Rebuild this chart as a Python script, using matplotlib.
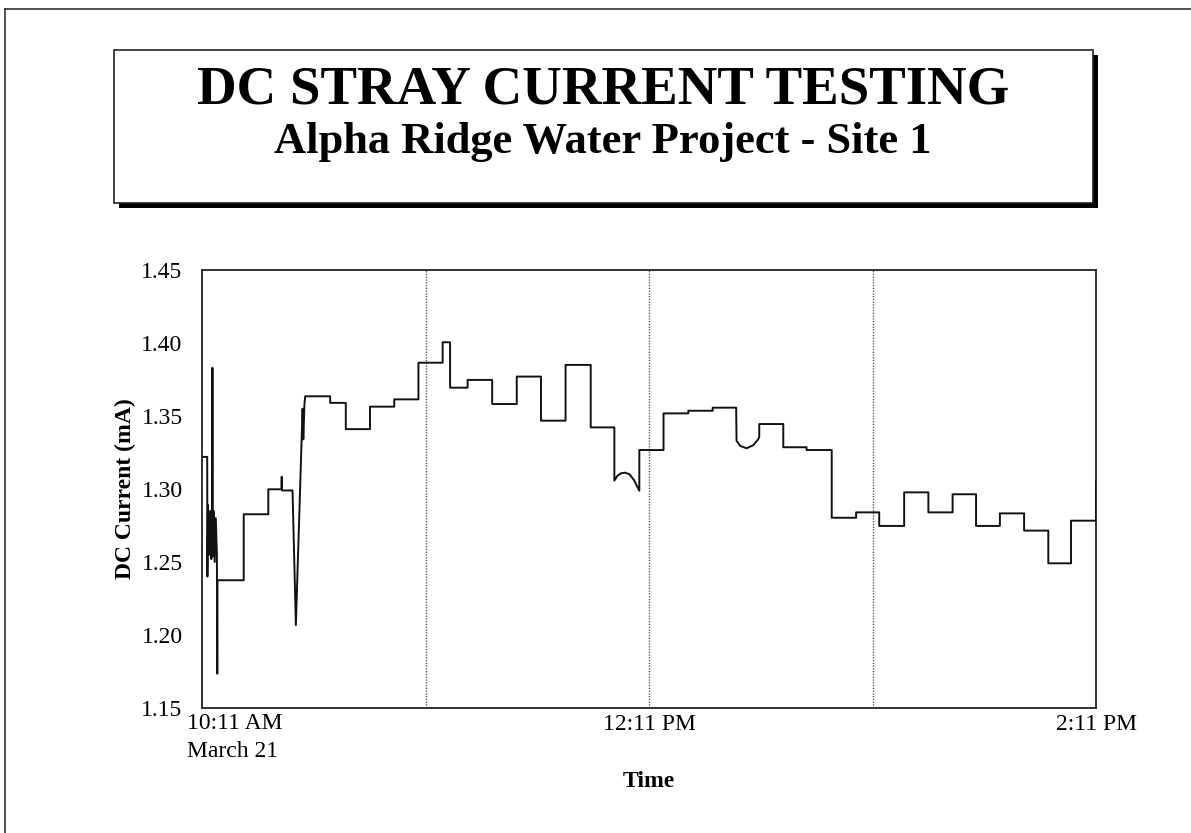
'''
DC stray current log,
Alpha Ridge Water Project, site 1
'''

# import packages needed
import matplotlib
matplotlib.use("Agg")
import matplotlib.pyplot as plt
from matplotlib.patches import Rectangle
from matplotlib.lines import Line2D

#################################

# readings: minutes after 10:11 AM and current in mA
minutes = [0, 1.4, 1.45, 1.6, 1.9, 2.2, 2.5, 2.75, 2.8, 2.85, 3.1, 3.4, 3.7, 4.0,
           4.1, 4.15, 11.2, 11.2, 17.8, 17.8, 21.3, 21.4, 21.5, 24.3, 25.2, 27.0,
           27.2, 27.5, 27.7, 34.4, 34.4, 38.6, 38.6, 45.1, 45.1, 51.6, 51.6, 58.1,
           58.1, 64.6, 64.6, 66.6, 66.6, 71.3, 71.3, 77.9, 77.9, 84.5, 84.5, 91.0,
           91.0, 97.6, 97.6, 104.35, 104.35, 110.7, 110.7, 111.5, 112.5, 113.6,
           114.8, 116.0, 117.4, 117.4, 123.9, 123.9, 130.55, 130.55, 137.1, 137.1,
           143.4, 143.5, 144.5, 146.2, 148.0, 149.3, 149.6, 149.6, 156.05, 156.05,
           162.3, 162.3, 169.05, 169.05, 175.6, 175.6, 181.8, 181.8, 188.5, 188.5,
           195.0, 195.0, 201.5, 201.5, 207.8, 207.8, 214.2, 214.2, 220.7, 220.7,
           227.2, 227.2, 233.3, 233.3, 240.0, 240.0]
current_ma = [1.322, 1.322, 1.240, 1.289, 1.255, 1.285, 1.252, 1.262, 1.383, 1.254,
              1.285, 1.250, 1.280, 1.255, 1.1735, 1.2375, 1.2375, 1.2827, 1.2827,
              1.2998, 1.2998, 1.3084, 1.2990, 1.2990, 1.2068, 1.355, 1.334, 1.358,
              1.3635, 1.3635, 1.359, 1.359, 1.341, 1.341, 1.3564, 1.3564, 1.3614,
              1.3614, 1.3865, 1.3865, 1.4005, 1.4005, 1.3694, 1.3694, 1.3747,
              1.3747, 1.3582, 1.3582, 1.377, 1.377, 1.3468, 1.3468, 1.385, 1.385,
              1.3422, 1.3422, 1.3057, 1.3090, 1.3108, 1.3112, 1.3100, 1.3060,
              1.2988, 1.3267, 1.3267, 1.3518, 1.3518, 1.3536, 1.3536, 1.3557,
              1.3557, 1.333, 1.3295, 1.3279, 1.3300, 1.3340, 1.3358, 1.3445, 1.3445,
              1.3286, 1.3286, 1.3267, 1.3267, 1.2803, 1.2803, 1.284, 1.284, 1.2747,
              1.2747, 1.2977, 1.2977, 1.284, 1.284, 1.2964, 1.2964, 1.2747, 1.2747,
              1.2833, 1.2833, 1.2715, 1.2715, 1.2491, 1.2491, 1.2783, 1.2783, 1.305]

# axis ticks and labels
y_ticks = [1.15, 1.20, 1.25, 1.30, 1.35, 1.40, 1.45]
x_ticks = [0, 120, 240]
x_labels = ["", "12:11 PM", "2:11 PM"]
first_label = "10:11 AM\nMarch 21"
hour_lines = [60, 120, 180]

title = "DC STRAY CURRENT TESTING"
subtitle = "Alpha Ridge Water Project - Site 1"


if __name__ == "__main__":
  '''Main block'''

  plt.rcParams['font.family'] = ['Liberation Serif', 'DejaVu Serif']

  fig = plt.figure(figsize=(11.91, 8.33), dpi=100)

  # page border (top and left edges of the scanned sheet)
  fig.add_artist(Line2D([5/1191, 1.0], [824/833, 824/833], color="#333333", lw=1.2))
  fig.add_artist(Line2D([5/1191, 5/1191], [0.0, 824/833], color="#333333", lw=1.2))

  # title box with a drop shadow
  bx, by, bw, bh = 114/1191, 630/833, 979/1191, 153/833
  fig.add_artist(Rectangle((bx + 5/1191, by - 5/833), bw, bh, facecolor="black",
                           edgecolor="black", lw=0))
  fig.add_artist(Rectangle((bx, by), bw, bh, facecolor="white",
                           edgecolor="#222222", lw=1.2))
  fig.text(0.5065, 742/833, title, ha="center", va="center",
           fontsize=39.5, fontweight="bold")
  fig.text(0.5065, 691/833, subtitle, ha="center", va="center",
           fontsize=32, fontweight="bold")

  # the plot itself
  ax = fig.add_axes([202/1191, 125/833, 894/1191, 438/833])
  for hl in hour_lines:
    ax.axvline(hl, color="#555555", lw=1.0, linestyle=(0, (1, 1)), zorder=1)
  ax.plot(minutes, current_ma, color="#111111", lw=1.4, zorder=3)

  ax.set_xlim(0, 240)
  ax.set_ylim(1.15, 1.45)
  ax.set_yticks(y_ticks)
  ax.set_yticklabels(["%.2f" % v for v in y_ticks], fontsize=17)
  ax.set_xticks(x_ticks)
  ax.set_xticklabels(x_labels, fontsize=17)
  ax.tick_params(axis="y", length=0, pad=14)
  ax.tick_params(axis="x", length=0, pad=4)
  ax.text(-4.0, -0.012, first_label, transform=ax.get_xaxis_transform(),
          ha="left", va="top", fontsize=17, linespacing=1.45)

  for sp in ax.spines.values():
    sp.set_linewidth(1.3)
    sp.set_color("#222222")

  ax.set_ylabel("DC Current (mA)", fontsize=17, fontweight="bold", labelpad=4)
  ax.set_xlabel("Time", fontsize=17, fontweight="bold", labelpad=26)

  fig.savefig("out.png", dpi=100)
